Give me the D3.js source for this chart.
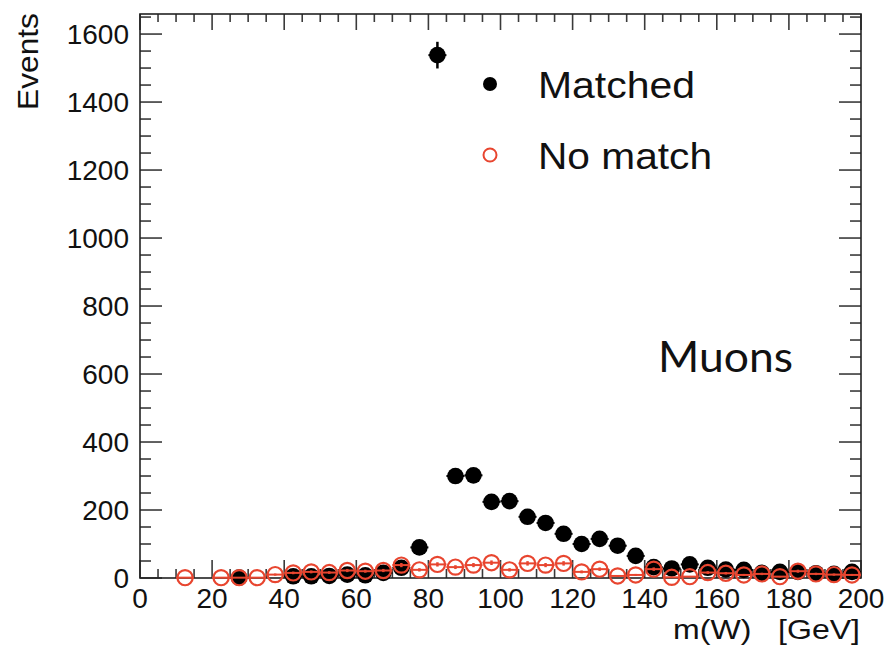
<!DOCTYPE html>
<html>
<head>
<meta charset="utf-8">
<script src="https://cdn.jsdelivr.net/npm/d3@7"></script>
<style>
  body { margin: 0; background: #fff; }
  svg { display: block; font-family: "Liberation Sans", Arial, sans-serif; }
</style>
</head>
<body>
<div id="chart"></div>
<script>
// bin centres of m(W) in GeV (bin width 5)
const binCenters = [12.5, 17.5, 22.5, 27.5, 32.5, 37.5, 42.5, 47.5, 52.5, 57.5,
  62.5, 67.5, 72.5, 77.5, 82.5, 87.5, 92.5, 97.5, 102.5, 107.5,
  112.5, 117.5, 122.5, 127.5, 132.5, 137.5, 142.5, 147.5, 152.5, 157.5,
  162.5, 167.5, 172.5, 177.5, 182.5, 187.5, 192.5, 197.5];
// null = empty bin, not drawn
const matched = [null, null, null, 1, null, null, 5, 5, 6, 10,
  8, 15, 30, 90, 1538, 300, 302, 224, 226, 180,
  162, 130, 100, 115, 95, 65, 32, 28, 40, 30,
  25, 24, 15, 18, 18, 14, 12, 18];
const noMatch = [1, null, 1, 1, 1, 10, 15, 18, 16, 22,
  20, 22, 38, 24, 40, 32, 38, 45, 24, 43,
  38, 43, 18, 26, 6, 9, 26, 2, 4, 16,
  14, 9, 12, 4, 20, 12, 10, 9];
const xTicks = [0, 20, 40, 60, 80, 100, 120, 140, 160, 180, 200];
const yTicks = [0, 200, 400, 600, 800, 1000, 1200, 1400, 1600];
const binWidth = 5;

const W = 888, H = 649;
const margin = {top: 14, right: 27, bottom: 71, left: 140};
const width = W - margin.left - margin.right,
      height = H - margin.top - margin.bottom;
const red = "#e8452f";

const svg = d3.select("#chart").append("svg")
    .attr("width", W).attr("height", H);
const g = svg.append("g")
    .attr("transform", "translate(" + margin.left + "," + margin.top + ")");

const x = d3.scaleLinear().domain([0, 200]).range([0, width]);
const y = d3.scaleLinear().domain([0, 1659]).range([height, 0]);

// axes with ROOT style ticks (major + minor, on all four sides)
const tickCol = "#3a3a3a";
const minorX = d3.range(0, 201, 5).filter(v => v % 20 !== 0);
const minorY = d3.range(0, 1651, 50).filter(v => v % 200 !== 0);

function axisTicks(gen, scale, major, minor, lenMaj, lenMin) {
    const a = g.append("g").attr("transform", gen.t);
    a.selectAll("line.maj").data(major).enter().append("line")
        .attr(gen.pos + "1", d => scale(d)).attr(gen.pos + "2", d => scale(d))
        .attr(gen.off + "1", 0).attr(gen.off + "2", gen.dir * lenMaj)
        .attr("stroke", tickCol).attr("stroke-width", 1.6);
    a.selectAll("line.min").data(minor).enter().append("line")
        .attr(gen.pos + "1", d => scale(d)).attr(gen.pos + "2", d => scale(d))
        .attr(gen.off + "1", 0).attr(gen.off + "2", gen.dir * lenMin)
        .attr("stroke", tickCol).attr("stroke-width", 1.6);
}
axisTicks({t: "translate(0," + height + ")", pos: "x", off: "y", dir: -1}, x, xTicks, minorX, 18, 9);
axisTicks({t: "translate(0,0)", pos: "x", off: "y", dir: 1}, x, xTicks, minorX, 16, 8);
axisTicks({t: "translate(0,0)", pos: "y", off: "x", dir: 1}, y, yTicks, minorY, 22, 11);
axisTicks({t: "translate(" + width + ",0)", pos: "y", off: "x", dir: -1}, y, yTicks, minorY, 22, 11);

// frame
g.append("rect").attr("width", width).attr("height", height)
    .attr("fill", "none").attr("stroke", "#222").attr("stroke-width", 1.6);

// tick labels
g.append("g").selectAll("text").data(xTicks).enter().append("text")
    .attr("x", d => x(d)).attr("y", height + 30)
    .attr("text-anchor", "middle")
    .attr("font-size", 28).attr("fill", "#111")
    .text(d => d);
g.append("g").selectAll("text").data(yTicks).enter().append("text")
    .attr("x", -11).attr("y", d => y(d) + 10)
    .attr("text-anchor", "end")
    .attr("font-size", 28).attr("fill", "#111")
    .text(d => d);

// axis titles
svg.append("text")
    .attr("transform", "translate(38,13) rotate(-90)")
    .attr("text-anchor", "end")
    .attr("font-size", 29).attr("fill", "#111")
    .attr("textLength", 97).attr("lengthAdjust", "spacingAndGlyphs")
    .text("Events");
svg.append("text")
    .attr("x", 860).attr("y", 639)
    .attr("text-anchor", "end")
    .attr("font-size", 28).attr("fill", "#111")
    .attr("textLength", 187).attr("lengthAdjust", "spacingAndGlyphs")
    .attr("xml:space", "preserve")
    .text("m(W)   [GeV]");

// data points with error bars
function drawSeries(vals, col, filled) {
    const pts = binCenters.map((c, i) => ({c: c, v: vals[i]})).filter(d => d.v !== null);
    const s = g.append("g");
    s.selectAll("line.h").data(pts).enter().append("line")
        .attr("x1", d => x(d.c - binWidth / 2)).attr("x2", d => x(d.c + binWidth / 2))
        .attr("y1", d => y(d.v)).attr("y2", d => y(d.v))
        .attr("stroke", col).attr("stroke-width", 2);
    s.selectAll("line.v").data(pts).enter().append("line")
        .attr("x1", d => x(d.c)).attr("x2", d => x(d.c))
        .attr("y1", d => y(d.v + Math.sqrt(d.v))).attr("y2", d => y(Math.max(0, d.v - Math.sqrt(d.v))))
        .attr("stroke", col).attr("stroke-width", 2.5);
    s.selectAll("circle").data(pts).enter().append("circle")
        .attr("cx", d => x(d.c)).attr("cy", d => y(d.v))
        .attr("r", filled ? 8.3 : 7.6)
        .attr("fill", filled ? col : "none")
        .attr("stroke", col).attr("stroke-width", filled ? 0 : 2.2);
}
drawSeries(matched, "#000", true);
drawSeries(noMatch, red, false);

// legend
svg.append("circle").attr("cx", 490).attr("cy", 84).attr("r", 7).attr("fill", "#000");
svg.append("text").attr("x", 538).attr("y", 98)
    .attr("font-size", 37).attr("fill", "#111")
    .attr("textLength", 157).attr("lengthAdjust", "spacingAndGlyphs")
    .text("Matched");
svg.append("circle").attr("cx", 490).attr("cy", 155).attr("r", 6.5)
    .attr("fill", "none").attr("stroke", red).attr("stroke-width", 2);
svg.append("text").attr("x", 538).attr("y", 169)
    .attr("font-size", 37).attr("fill", "#111")
    .attr("textLength", 174).attr("lengthAdjust", "spacingAndGlyphs")
    .text("No match");

// channel label
svg.append("text").attr("x", 658).attr("y", 372)
    .attr("font-family", "Lato, 'Open Sans', sans-serif")
    .attr("font-size", 42).attr("fill", "#111")
    .attr("textLength", 135).attr("lengthAdjust", "spacingAndGlyphs")
    .text("Muons");
</script>
</body>
</html>
